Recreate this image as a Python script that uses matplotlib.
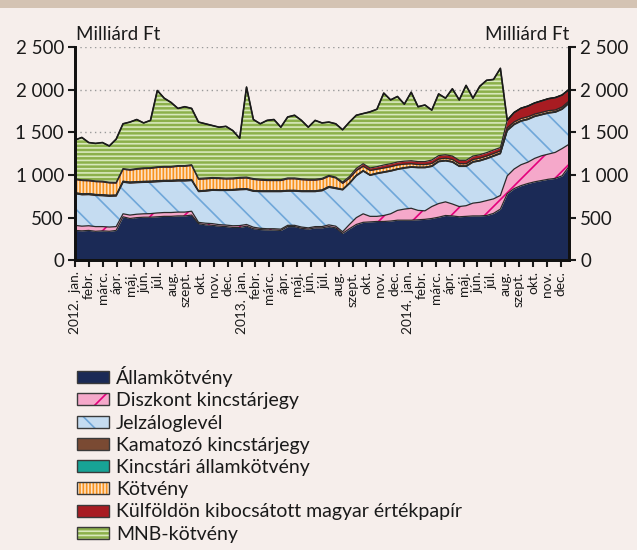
import numpy as np
import matplotlib
matplotlib.use("Agg")
import matplotlib.pyplot as plt
from matplotlib.patches import Patch, Rectangle
from matplotlib.legend_handler import HandlerTuple

plt.rcParams['font.family'] = ['Lato', 'DejaVu Sans']
plt.rcParams['hatch.linewidth'] = 1.2

# half-monthly readings, Jan 2012 - Dec 2014 (milliard Ft)
allam = [350, 345, 350, 340, 345, 340, 350, 510, 490, 500, 505, 505, 510, 515, 515, 520, 520, 530,
         430, 415, 410, 400, 395, 385, 385, 400, 370, 360, 355, 355, 350, 395, 395, 375, 365, 380,
         380, 395, 380, 315, 370, 420, 445, 450, 455, 455, 460, 470, 470, 470, 475, 480, 490, 505,
         525, 520, 510, 515, 520, 520, 525, 550, 600, 780, 840, 875, 900, 920, 935, 950, 960, 990, 1100]
diszkont = [60, 55, 55, 55, 50, 50, 45, 35, 40, 40, 40, 42, 45, 45, 45, 45, 45, 45,
            15, 20, 20, 18, 18, 20, 22, 20, 18, 15, 15, 15, 15, 15, 15, 15, 15, 15,
            15, 20, 20, 20, 50, 80, 100, 65, 60, 70, 85, 115, 130, 140, 110, 100, 140, 160,
            160, 140, 120, 125, 150, 160, 175, 170, 160, 210, 230, 245, 250, 275, 290, 295, 305, 320, 260]
jelzalog = [370, 368, 365, 365, 362, 360, 358, 370, 375, 370, 368, 368, 366, 365, 365, 365, 365, 360,
            360, 375, 390, 400, 405, 415, 420, 410, 420, 430, 435, 435, 440, 400, 400, 415, 425, 410,
            420, 440, 440, 490, 480, 490, 500, 480, 500, 505, 500, 480, 480, 480, 500, 505, 470, 490,
            480, 490, 470, 460, 480, 485, 490, 500, 490, 530, 520, 510, 500, 490, 480, 480, 470, 460, 480]
kamatozo = [10] * 18 + [8] * 21 + [5] * 34
kincstari = [2] * 73
kotveny = [155, 155, 150, 150, 150, 145, 140, 140, 140, 145, 150, 150, 155, 155, 155, 160, 160, 165,
           135, 135, 130, 130, 125, 125, 125, 125, 130, 125, 120, 120, 120, 135, 135, 130, 125, 125,
           125, 120, 115, 70, 55, 55, 50, 50, 45, 45, 45, 45, 40, 35, 30, 30, 28, 25,
           25, 25, 25, 25, 25, 25, 25, 25, 25, 25, 25, 25, 25, 22, 22, 22, 20, 20, 20]
kulfoldi = [8] * 18 + [10] * 21 + [15, 20, 25, 30, 30, 30, 35, 35, 35, 35, 35, 35, 35,
            40, 40, 40, 40, 40, 40, 40, 40, 40, 40, 40, 90, 110, 120, 125, 130, 135, 140, 145, 140, 135]
mnb = [455, 497, 440, 440, 453, 425, 507, 525, 555, 575, 527, 555, 894, 800, 750, 670, 690, 660,
       660, 635, 610, 592, 607, 555, 458, 1055, 692, 650, 695, 705, 615, 715, 735, 685, 610, 690,
       650, 625, 625, 613, 638, 623, 588, 658, 673, 843, 748, 768, 668, 803, 643, 663, 585, 723,
       663, 788, 708, 878, 678, 803, 848, 828, 928] + [0] * 10

months = ["jan.", "febr.", "márc.", "ápr.", "máj.", "jún.", "júl.", "aug.", "szept.", "okt.", "nov.", "dec."]
years = ["2012.", "2013.", "2014."]
tick_labels = []
for y in years:
    for i, m in enumerate(months):
        tick_labels.append(y + "  " + m if i == 0 else m)

series = [
    ("Államkötvény", allam, "#1b2a56", "#1b2a56", None),
    ("Diszkont kincstárjegy", diszkont, "#f5a8ca", "#e4007c", "/"),
    ("Jelzáloglevél", jelzalog, "#c5dcf1", "#6fa7d9", "\\"),
    ("Kamatozó kincstárjegy", kamatozo, "#7a4a33", "#7a4a33", None),
    ("Kincstári államkötvény", kincstari, "#17a396", "#17a396", None),
    ("Kötvény", kotveny, "#f7931e", "#fde2c6", "|||||"),
    ("Külföldön kibocsátott magyar értékpapír", kulfoldi, "#a81c22", "#a81c22", None),
    ("MNB-kötvény", mnb, "#8cb04b", "#d8e8bb", "----"),
]

fs = 13.5
bg = "#f6eeeb"
fig = plt.figure(figsize=(6.37, 5.5), dpi=100, facecolor=bg)
fig.patches.append(Rectangle((0, 1 - 8 / 550), 1, 8 / 550, transform=fig.transFigure,
                             facecolor="#d4c3b3", edgecolor="none"))

ax = fig.add_axes([75 / 637, 289.7 / 550, 494 / 637, 213.3 / 550])
ax.set_facecolor(bg)
x = np.linspace(0, 35.6, 73)

bottom = np.zeros(73)
handles = []
for name, vals, fc, hc, hatch in series:
    top = bottom + np.array(vals)
    ax.fill_between(x, bottom, top, facecolor=fc, edgecolor=hc, hatch=hatch, linewidth=0, zorder=2)
    handles.append((Patch(facecolor=fc, edgecolor=hc, hatch=hatch, linewidth=0),
                    Patch(fill=False, edgecolor="#3a3a3a", linewidth=1.0)))
    bottom = top

# outlines of the layers
cum = np.zeros(73)
for name, vals, fc, hc, hatch in series:
    cum = cum + np.array(vals)
    ax.plot(x, cum, color="#2a2a2a", lw=0.9, zorder=3)
ax.plot(x, cum, color="#1a1a1a", lw=1.2, zorder=4)

ax.set_xlim(0, 35.6)
ax.set_ylim(0, 2500)
yt = [0, 500, 1000, 1500, 2000, 2500]
ylabels = ["0", "500", "1 000", "1 500", "2 000", "2 500"]
ax.set_yticks(yt)
ax.set_yticklabels(ylabels)
for v in yt[1:]:
    ax.axhline(v, color="#9a9a9a", lw=1, ls=(0, (1, 2.5)), zorder=1)

ax.set_xticks(range(36))
ax.set_xticklabels(tick_labels, rotation=90, va="top", ha="center")
ax.tick_params(axis="x", direction="out", length=5, width=1.5, pad=3, labelsize=9.8, colors="#1a1a1a")
ax.tick_params(axis="y", direction="out", length=5, width=1.5, pad=3, labelsize=fs, colors="#1a1a1a")

ax2 = ax.twinx()
ax2.set_ylim(0, 2500)
ax2.set_yticks(yt)
ax2.set_yticklabels(ylabels)
ax2.tick_params(axis="y", direction="out", length=5, width=1.5, pad=3, labelsize=fs, colors="#1a1a1a")

for a in (ax, ax2):
    a.spines["top"].set_visible(False)
    for s in ("left", "right", "bottom"):
        a.spines[s].set_linewidth(2)
        a.spines[s].set_color("#111111")

fig.text(76 / 637, 1 - 43 / 550, "Milliárd Ft", fontsize=fs, color="#1a1a1a", ha="left", va="bottom")
fig.text(569 / 637, 1 - 43 / 550, "Milliárd Ft", fontsize=fs, color="#1a1a1a", ha="right", va="bottom")

fig.legend(handles, [s[0] for s in series], loc="upper left", bbox_to_anchor=(77 / 637, 1 - 366 / 550),
           frameon=False, fontsize=14, handlelength=1.65, handleheight=0.58, handletextpad=0.35,
           labelspacing=0.27, borderpad=0, borderaxespad=0,
           handler_map={tuple: HandlerTuple(ndivide=1, pad=0)}, labelcolor="#1a1a1a")

fig.savefig("out.png", dpi=100, facecolor=bg)
